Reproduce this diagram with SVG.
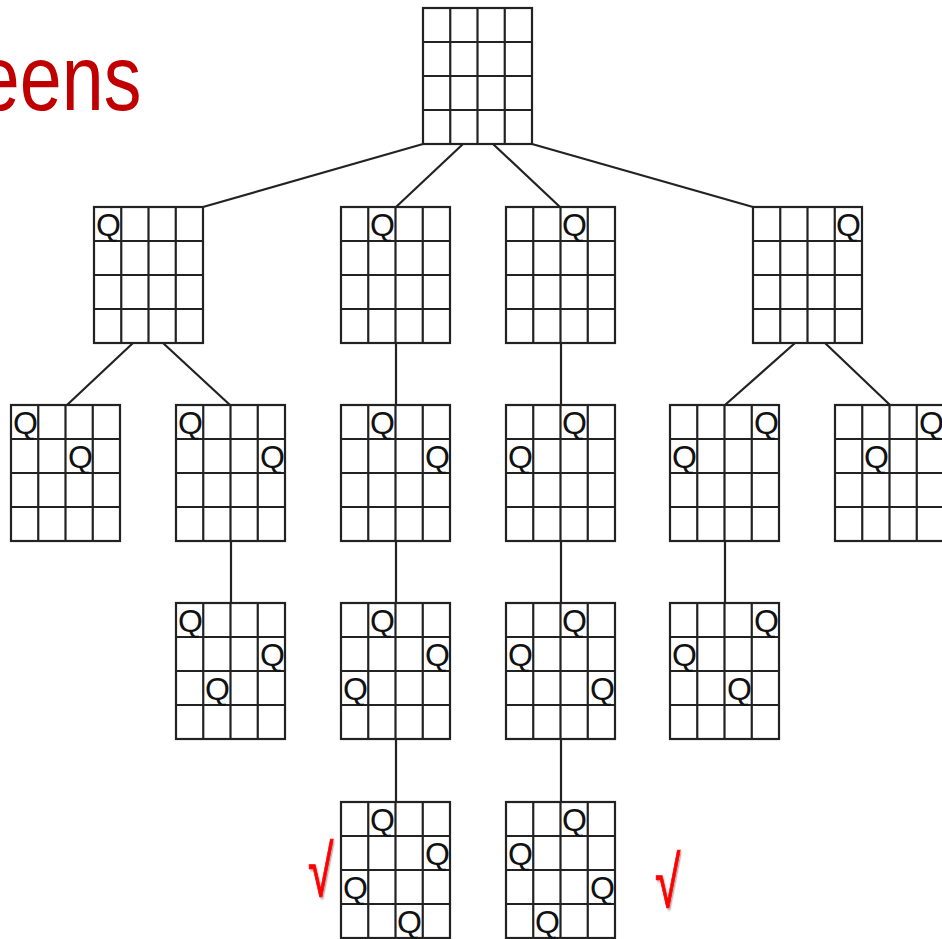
<svg xmlns="http://www.w3.org/2000/svg" xmlns:xlink="http://www.w3.org/1999/xlink" width="942" height="939" viewBox="0 0 942 939">
<style>
.grid{fill:none;stroke:#222;stroke-width:2.2}
.q{font-family:"Liberation Sans",Arial,sans-serif;font-size:32px;fill:#111}
.edge{stroke:#222;stroke-width:2.2;fill:none}
.chk{font-family:"Liberation Sans",Arial,sans-serif;font-size:72px;fill:#ff0000;stroke:#ff0000;stroke-width:1}
.title{font-family:"Liberation Sans",Arial,sans-serif;font-size:92px;fill:#c00000}
</style>
<defs>
<g id="board">
<rect class="grid" x="0" y="0" width="109" height="136"/>
<path class="grid" d="M27.25 0V136M54.5 0V136M81.75 0V136M0 34H109M0 68H109M0 102H109"/>
</g>
<filter id="sh" x="-30%" y="-20%" width="180%" height="160%">
<feDropShadow dx="2" dy="2" stdDeviation="1.2" flood-color="#000" flood-opacity="0.3"/>
</filter>
</defs>
<rect width="942" height="939" fill="#fff"/>
<text class="title" transform="scale(0.82 1)" x="-27" y="110">eens</text>
<g id="connectors">
<path class="edge" d="M423 144L203 207M463 144L396 207M493 144L560 207M532 144L753 207"/>
<path class="edge" d="M133 343L67 405M163 343L230 405M795 343L725 405M825 343L890 405"/>
<path class="edge" d="M231 541V603M725 541V603M396 343V405M396 541V603M396 739V802M561 343V405M561 541V603M561 739V802"/>
</g>
<g id="root"><use xlink:href="#board" x="423" y="8"/></g>
<g id="n1a"><use xlink:href="#board" x="94" y="207"/><text class="q" x="96" y="236">Q</text></g>
<g id="n1b"><use xlink:href="#board" x="341" y="207"/><text class="q" x="370" y="236">Q</text></g>
<g id="n1c"><use xlink:href="#board" x="506" y="207"/><text class="q" x="562" y="236">Q</text></g>
<g id="n1d"><use xlink:href="#board" x="753" y="207"/><text class="q" x="836" y="236">Q</text></g>
<g id="n2a"><use xlink:href="#board" x="11" y="405"/><text class="q" x="13" y="434">Q</text><text class="q" x="68" y="468">Q</text></g>
<g id="n2b"><use xlink:href="#board" x="176" y="405"/><text class="q" x="178" y="434">Q</text><text class="q" x="260" y="468">Q</text></g>
<g id="n2c"><use xlink:href="#board" x="341" y="405"/><text class="q" x="370" y="434">Q</text><text class="q" x="425" y="468">Q</text></g>
<g id="n2d"><use xlink:href="#board" x="506" y="405"/><text class="q" x="562" y="434">Q</text><text class="q" x="508" y="468">Q</text></g>
<g id="n2e"><use xlink:href="#board" x="670" y="405"/><text class="q" x="754" y="434">Q</text><text class="q" x="672" y="468">Q</text></g>
<g id="n2f"><use xlink:href="#board" x="835" y="405"/><text class="q" x="919" y="434">Q</text><text class="q" x="864" y="468">Q</text></g>
<g id="n3a"><use xlink:href="#board" x="176" y="603"/><text class="q" x="178" y="632">Q</text><text class="q" x="260" y="666">Q</text><text class="q" x="205" y="700">Q</text></g>
<g id="n3b"><use xlink:href="#board" x="341" y="603"/><text class="q" x="370" y="632">Q</text><text class="q" x="425" y="666">Q</text><text class="q" x="343" y="700">Q</text></g>
<g id="n3c"><use xlink:href="#board" x="506" y="603"/><text class="q" x="562" y="632">Q</text><text class="q" x="508" y="666">Q</text><text class="q" x="590" y="700">Q</text></g>
<g id="n3d"><use xlink:href="#board" x="670" y="603"/><text class="q" x="754" y="632">Q</text><text class="q" x="672" y="666">Q</text><text class="q" x="727" y="700">Q</text></g>
<g id="n4a"><use xlink:href="#board" x="341" y="802"/><text class="q" x="370" y="831">Q</text><text class="q" x="425" y="865">Q</text><text class="q" x="343" y="899">Q</text><text class="q" x="397" y="933">Q</text></g>
<g id="n4b"><use xlink:href="#board" x="506" y="802"/><text class="q" x="562" y="831">Q</text><text class="q" x="508" y="865">Q</text><text class="q" x="590" y="899">Q</text><text class="q" x="535" y="933">Q</text></g>
<text class="chk" transform="translate(308 896) scale(0.64 1)" filter="url(#sh)">√</text>
<text class="chk" transform="translate(655 907) scale(0.64 1)" filter="url(#sh)">√</text>
</svg>
